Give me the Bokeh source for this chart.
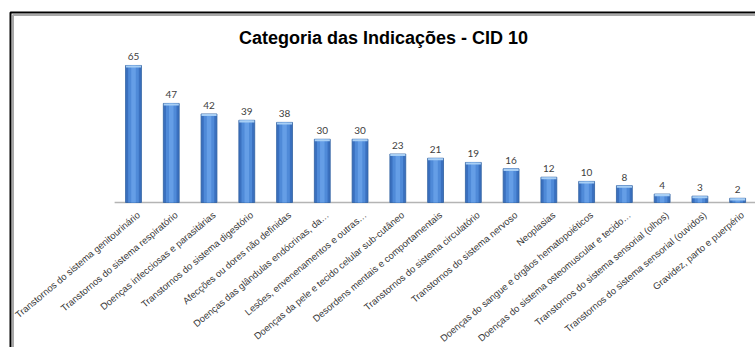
import math

from bokeh.core.properties import value
from bokeh.embed import file_html
from bokeh.models import ColumnDataSource, Range1d
from bokeh.plotting import figure
from bokeh.resources import INLINE

# ---- data -------------------------------------------------------------
title_text = "Categoria das Indicações - CID 10"

categories = [
    "Transtornos do sistema genitourinário",
    "Transtornos do sistema respiratório",
    "Doenças infecciosas e parasitárias",
    "Transtornos do sistema digestório",
    "Afecções ou dores não definidas",
    "Doenças das glândulas endócrinas, da…",
    "Lesões, envenenamentos e outras…",
    "Doenças da pele e tecido celular sub-cutâneo",
    "Desordens mentais e comportamentais",
    "Transtornos do sistema circulatório",
    "Transtornos do sistema nervoso",
    "Neoplasias",
    "Doenças do sangue e órgãos hematopoiéticos",
    "Doenças do sistema osteomuscular e tecido…",
    "Transtornos do sistema sensorial (olhos)",
    "Transtornos do sistema sensorial (ouvidos)",
    "Gravidez, parto e puerpério",
]

counts = [65, 47, 42, 39, 38, 30, 30, 23, 21, 19, 16, 12, 10, 8, 4, 3, 2]

# ---- layout (pixels) ----------------------------------------------------
W, H = 755, 347
SLOT = 37.76      # horizontal pixels per category
FIRST_PX = 133    # centre of the first column
BASE_PX = 202     # vertical position of the zero line
UNIT_PX = 2.108   # pixels per count

x_start = -FIRST_PX / SLOT
x_end = x_start + W / SLOT
y_end = BASE_PX / UNIT_PX
y_start = -(H - BASE_PX) / UNIT_PX


def px_x(px):
    return x_start + px / SLOT


def px_y(py):
    return (BASE_PX - py) / UNIT_PX


idx = list(range(len(categories)))
src = ColumnDataSource(dict(
    x=idx,
    top=counts,
    cap=[c - 1.0 for c in counts],
    lbl=[str(c) for c in counts],
    cat=categories,
    zero=[0] * len(counts),
))

p = figure(
    width=W, height=H,
    x_range=Range1d(x_start, x_end),
    y_range=Range1d(y_start, y_end),
    x_axis_type=None, y_axis_type=None,
    output_backend="svg", toolbar_location=None,
    min_border=0,
)
p.min_border_left = p.min_border_right = 0
p.min_border_top = p.min_border_bottom = 0
p.grid.visible = False
p.outline_line_color = None
p.background_fill_color = "white"
p.border_fill_color = "white"

# frame around the chart: black edge with a grey shadow inside
p.line(x=[px_x(10), px_x(10), px_x(756)], y=[px_y(348), px_y(12), px_y(12)],
       line_color="black", line_width=2)
p.line(x=[px_x(12.5), px_x(12.5), px_x(756)], y=[px_y(348), px_y(14.5), px_y(14.5)],
       line_color="#a8a8a8", line_width=2)

# title
p.text(x=[px_x(383)], y=[px_y(37.5)], text=[title_text],
       text_align="center", text_baseline="alphabetic",
       text_font=value("Liberation Sans"), text_font_style="bold",
       text_font_size="18px", text_color="black")

# zero line
p.line(x=[-0.5, len(categories) - 0.5], y=[0, 0], line_color="#b4b4b4", line_width=1.5)

# columns with a cylinder-like shading
p.vbar(x="x", top="top", bottom=0, width=0.42, source=src,
       fill_color="#3a70bf", line_color="#2f5f9f", line_width=0.8)
p.vbar(x="x", top="top", bottom=0, width=0.28, source=src,
       fill_color="#4f8ad8", line_color=None)
p.vbar(x="x", top="top", bottom=0, width=0.12, source=src,
       fill_color="#6aa3ea", line_color=None, fill_alpha=0.8)
p.vbar(x="x", top="top", bottom="cap", width=0.40, source=src,
       fill_color="#a8cff5", line_color=None)

# value labels above the columns
p.text(x="x", y="top", text="lbl", source=src,
       text_align="center", text_baseline="bottom", y_offset=-5,
       text_font=value("Lato"), text_font_size="10px", text_color="#404040")

# slanted category labels under the zero line
p.text(x="x", y="zero", text="cat", source=src,
       angle=math.radians(40), text_align="right", text_baseline="middle",
       x_offset=5, y_offset=11,
       text_font=value("Liberation Sans"), text_font_size="9.5px", text_color="#383838")

open("out.html", "w").write(file_html(p, INLINE))
